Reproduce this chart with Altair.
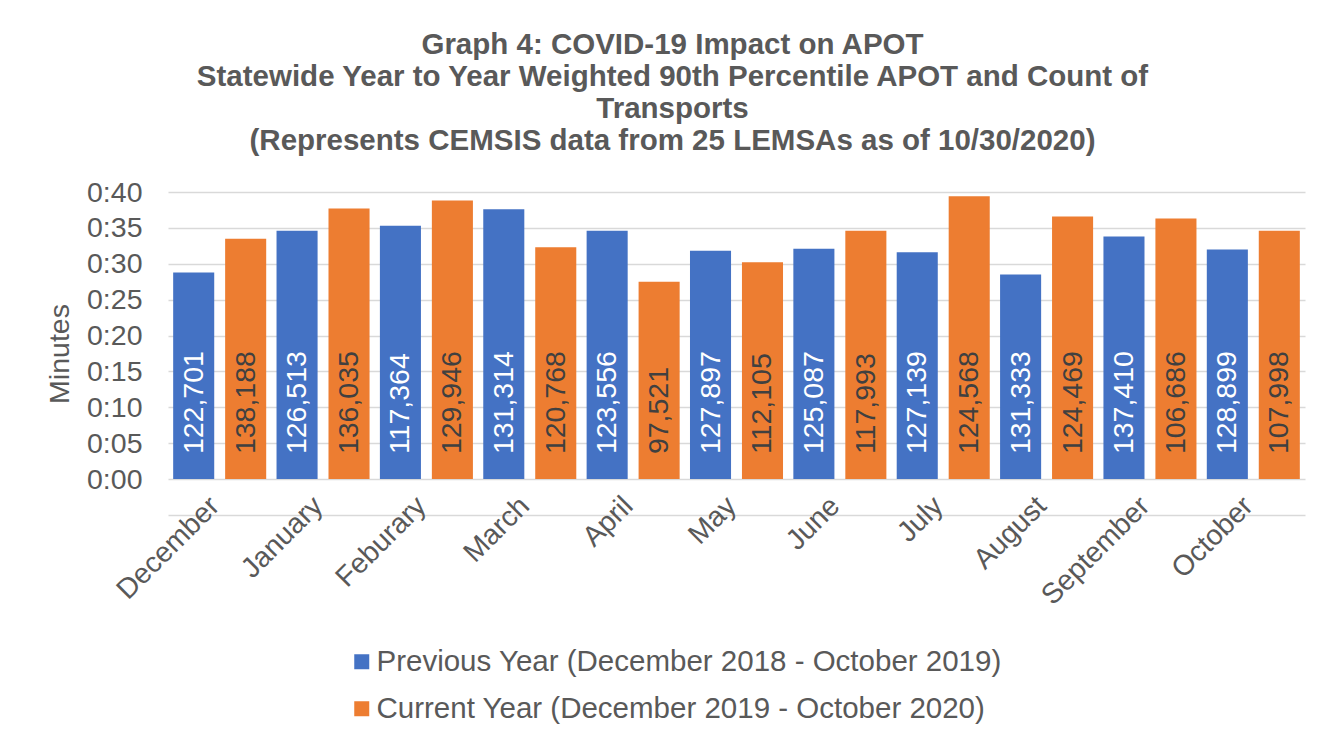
import altair as alt
import pandas as pd

months = ["December", "January", "Feburary", "March", "April", "May", "June",
          "July", "August", "September", "October"]
series_names = ["Previous Year (December 2018 - October 2019)",
                "Current Year (December 2019 - October 2020)"]
prev_minutes = [28.8, 34.6, 35.3, 37.6, 34.6, 31.8, 32.1, 31.6, 28.5, 33.8, 32.0]
curr_minutes = [33.5, 37.7, 38.8, 32.3, 27.5, 30.2, 34.6, 39.4, 36.6, 36.3, 34.6]
prev_counts = [122701, 126513, 117364, 131314, 123556, 127897, 125087, 127139, 131333, 137410, 128899]
curr_counts = [138188, 136035, 129946, 120768, 97521, 112105, 117993, 124568, 124469, 106686, 107998]
y_ticks = [-5, 0, 5, 10, 15, 20, 25, 30, 35, 40]
colors = ["#4472C4", "#ED7D31"]
title_lines = ["Graph 4: COVID-19 Impact on APOT",
               "Statewide Year to Year Weighted 90th Percentile APOT and Count of",
               "Transports",
               "(Represents CEMSIS data from 25 LEMSAs as of 10/30/2020)"]

rows = []
for i, m in enumerate(months):
    rows.append({"month": m, "series": series_names[0], "minutes": prev_minutes[i], "count": prev_counts[i]})
    rows.append({"month": m, "series": series_names[1], "minutes": curr_minutes[i], "count": curr_counts[i]})
df = pd.DataFrame(rows)

FONT = "Liberation Sans"
GRAY = "#595959"
FS = 28.5

x_enc = alt.X("month:N", sort=months, title=None,
              scale=alt.Scale(paddingInner=0.1, paddingOuter=0.05),
              axis=alt.Axis(labelAngle=-45, labelFontSize=FS, labelColor=GRAY, labelFont=FONT,
                            domain=False, ticks=False, labelPadding=-24, labelOffset=-15,
                            grid=False, labelOverlap=False))
xo_enc = alt.XOffset("series:N", sort=series_names,
                     scale=alt.Scale(paddingInner=0.21, paddingOuter=0))

y_axis = alt.Axis(values=y_ticks, tickCount=len(y_ticks) + 10, labelFontSize=FS, labelColor=GRAY,
                  labelFont=FONT, titleFontSize=FS, titleColor=GRAY, titleFont=FONT,
                  titleFontWeight="normal", titlePadding=12, labelPadding=26, domain=False,
                  ticks=False, labelOverlap=False, labelFlush=False,
                  gridColor="#D9D9D9", gridWidth=1.5,
                  labelExpr="datum.value < 0 ? '' : floor(datum.value/60) + ':' + (datum.value < 10 ? '0' : '') + datum.value")
y_scale = alt.Scale(domain=[-5, 40], nice=False, zero=False)

base = alt.Chart(df)

bars = base.mark_bar().encode(
    x=x_enc,
    xOffset=xo_enc,
    y=alt.Y("minutes:Q", scale=y_scale, title="Minutes", axis=y_axis),
    y2=alt.datum(0),
    color=alt.Color("series:N", sort=series_names,
                    scale=alt.Scale(domain=series_names, range=colors),
                    legend=alt.Legend(title=None, orient="none", legendX=179, legendY=455,
                                      direction="vertical", symbolType="square", symbolSize=225,
                                      symbolStrokeWidth=0, labelFontSize=29.5, labelColor=GRAY,
                                      labelFont=FONT, labelOffset=0, labelLimit=2000, rowPadding=16)),
)

def label_layer(name, col):
    return base.transform_filter(alt.datum.series == name).mark_text(
        angle=270, align="left", baseline="middle", dx=25, fontSize=FS, font=FONT, color=col
    ).encode(
        x=x_enc,
        xOffset=xo_enc,
        y=alt.datum(0, type="quantitative", scale=y_scale, axis=y_axis, title="Minutes"),
        text=alt.Text("count:Q", format=","),
    )

chart = alt.layer(bars, label_layer(series_names[0], "#FFFFFF"), label_layer(series_names[1], "#404040")).properties(
    width=1137, height=323,
    autosize=alt.AutoSizeParams(type="none"),
    padding={"left": 160, "top": 184, "right": 5, "bottom": 210},
    background="white",
    title=alt.TitleParams(title_lines, fontSize=29.5, font=FONT, fontWeight="bold", color=GRAY,
                          lineHeight=32, anchor="middle", dx=-64, offset=22),
).configure_view(stroke=None)

chart.save("out.html", embed_options={"renderer": "svg", "actions": False})
